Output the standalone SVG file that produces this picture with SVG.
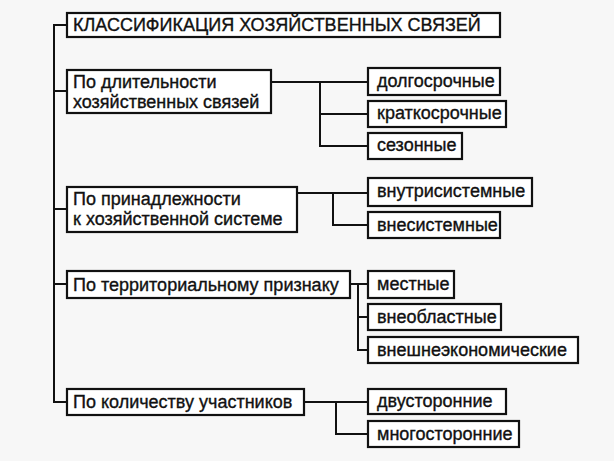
<svg xmlns="http://www.w3.org/2000/svg" width="614" height="461" viewBox="0 0 614 461">
<style>
.box{fill:#fff;stroke:#111;stroke-width:2.2}
.ln{fill:none;stroke:#111;stroke-width:2}
text{font-family:"Liberation Sans",Arial,sans-serif;font-size:18px;fill:#111;stroke:#111;stroke-width:0.35}
</style>
<rect width="614" height="461" fill="#f7f7f7"/>
<g id="connectors">
<path class="ln" d="M67,25 H54 V402 H67 M54,91 H67 M54,209 H67 M54,284 H67"/>
<path class="ln" d="M271,82 H368 M320,82 V146 H368 M320,114 H368"/>
<path class="ln" d="M297,193 H368 M333,193 V225 H368"/>
<path class="ln" d="M350,284 H368 M358,284 V350 H368 M358,317 H368"/>
<path class="ln" d="M304,402 H368 M336,402 V434 H368"/>
</g>
<g id="title"><rect class="box" x="67" y="13" width="433" height="24"/><text x="73" y="31">КЛАССИФИКАЦИЯ ХОЗЯЙСТВЕННЫХ СВЯЗЕЙ</text></g>
<g id="n1"><rect class="box" x="67" y="70" width="204" height="43"/><text x="73" y="88">По длительности</text><text x="73" y="108">хозяйственных связей</text></g>
<g id="n2"><rect class="box" x="67" y="187" width="230" height="45"/><text x="73" y="205">По принадлежности</text><text x="73" y="225">к хозяйственной системе</text></g>
<g id="n3"><rect class="box" x="67" y="271" width="283" height="27"/><text x="73" y="291">По территориальному признаку</text></g>
<g id="n4"><rect class="box" x="67" y="389" width="237" height="26"/><text x="73" y="408">По количеству участников</text></g>
<g id="c11"><rect class="box" x="368" y="68" width="132" height="27"/><text x="377" y="87">долгосрочные</text></g>
<g id="c12"><rect class="box" x="368" y="101" width="138" height="26"/><text x="377" y="119">краткосрочные</text></g>
<g id="c13"><rect class="box" x="368" y="133" width="94" height="26"/><text x="377" y="151">сезонные</text></g>
<g id="c21"><rect class="box" x="368" y="178" width="164" height="28"/><text x="377" y="197">внутрисистемные</text></g>
<g id="c22"><rect class="box" x="368" y="212" width="132" height="26"/><text x="377" y="231">внесистемные</text></g>
<g id="c31"><rect class="box" x="368" y="271" width="86" height="27"/><text x="377" y="290">местные</text></g>
<g id="c32"><rect class="box" x="368" y="304" width="133" height="26"/><text x="377" y="323">внеобластные</text></g>
<g id="c33"><rect class="box" x="368" y="337" width="210" height="26"/><text x="377" y="356">внешнеэкономические</text></g>
<g id="c41"><rect class="box" x="368" y="389" width="138" height="25"/><text x="377" y="407">двусторонние</text></g>
<g id="c42"><rect class="box" x="368" y="421" width="151" height="26"/><text x="377" y="440">многосторонние</text></g>
</svg>
